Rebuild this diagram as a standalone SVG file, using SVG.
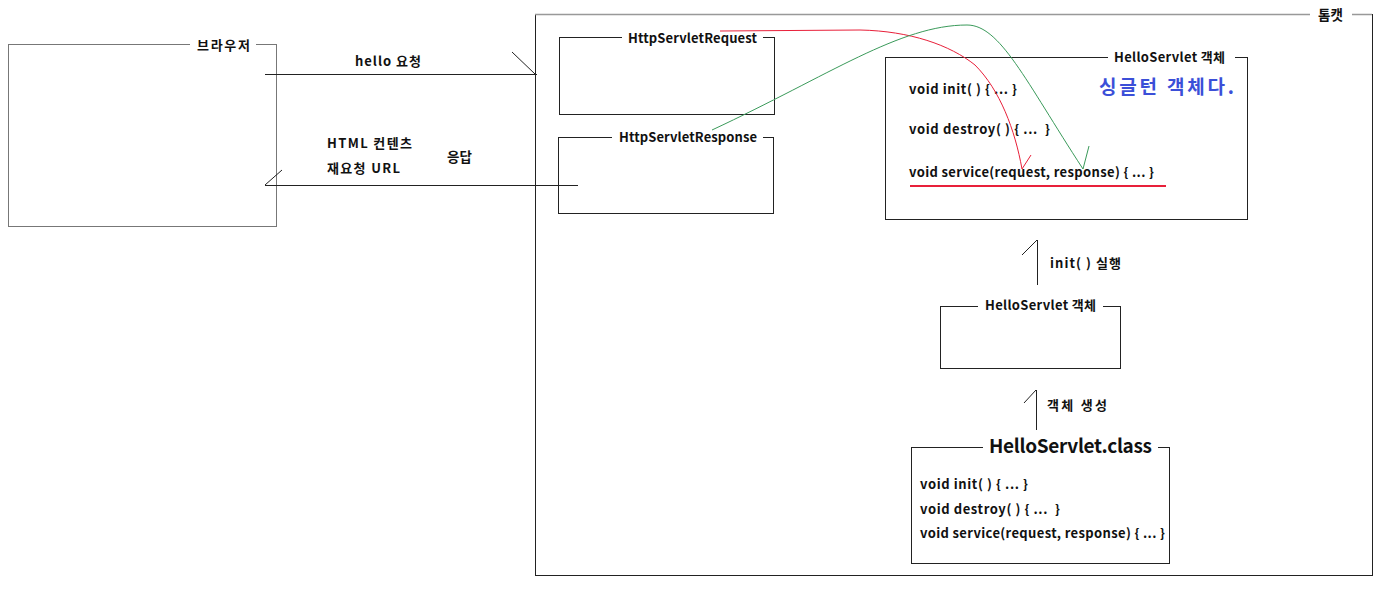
<svg xmlns="http://www.w3.org/2000/svg" width="1385" height="593" viewBox="0 0 1385 593">
<style>
.box{fill:none;stroke:#222;stroke-width:1}
.gbox{fill:none;stroke:#777;stroke-width:1}
.gap{fill:#fff;stroke:none}
.t{font-family:"Noto Sans CJK KR","Noto Sans",sans-serif;font-size:13px;font-weight:bold;fill:#111;white-space:pre}
.big{font-family:"Noto Sans CJK KR","Noto Sans",sans-serif;font-size:19px;font-weight:bold;fill:#111}
.ln{fill:none;stroke:#222;stroke-width:1}
</style>
<rect width="1385" height="593" fill="#fff"/>
<g id="tomcat">
<rect x="535.5" y="14.5" width="837" height="561" class="box"/>
<line x1="535" y1="14.5" x2="1372" y2="14.5" stroke="#999" stroke-width="1.5"/>
<rect x="1310" y="8" width="42" height="14" class="gap"/>
<text x="1318" y="20" class="t" style="font-size:13.5px">톰캣</text>
</g>
<g id="browser">
<rect x="8.5" y="44.5" width="268" height="182" class="gbox"/>
<rect x="190" y="38" width="66" height="14" class="gap"/>
<text x="197" y="50" class="t" textLength="53">브라우저</text>
</g>
<g id="request">
<rect x="559.5" y="37.5" width="215" height="77" class="box"/>
<rect x="622" y="31" width="141" height="14" class="gap"/>
<text x="628" y="43" class="t" textLength="129">HttpServletRequest</text>
</g>
<g id="response">
<rect x="558.5" y="137.5" width="215" height="76" class="box"/>
<rect x="612" y="131" width="151" height="14" class="gap"/>
<text x="619" y="142" class="t" textLength="138">HttpServletResponse</text>
</g>
<g id="servlet-obj">
<rect x="885.5" y="57.5" width="362" height="162" class="box"/>
<rect x="1108" y="51" width="127" height="14" class="gap"/>
<text x="1114" y="62" class="t" textLength="111">HelloServlet 객체</text>
<text x="909" y="94" class="t" textLength="108">void init( ) { ... }</text>
<text x="909" y="134" class="t" textLength="141">void destroy( ) { ...  }</text>
<text x="909" y="177" class="t" textLength="245">void service(request, response) { ... }</text>
<line x1="910" y1="186" x2="1166" y2="186" stroke="#e8203a" stroke-width="2"/>
<text x="1099" y="94" class="big" style="fill:#3b4fd8" textLength="135">싱글턴 객체다.</text>
</g>
<g id="servlet-obj2">
<rect x="940.5" y="306.5" width="180" height="62" class="box"/>
<rect x="978" y="299" width="125" height="14" class="gap"/>
<text x="985" y="310" class="t" textLength="111">HelloServlet 객체</text>
</g>
<g id="servlet-class">
<rect x="911.5" y="447.5" width="258" height="116" class="box"/>
<rect x="983" y="436" width="175" height="20" class="gap"/>
<text x="989" y="453" class="big" textLength="163">HelloServlet.class</text>
<text x="920" y="489" class="t" textLength="108">void init( ) { ... }</text>
<text x="920" y="514" class="t" textLength="140">void destroy( ) { ...  }</text>
<text x="920" y="538" class="t" textLength="245">void service(request, response) { ... }</text>
</g>
<g id="connectors">
<path d="M265,74.5 H537 M512,52 L535,74" class="ln"/>
<path d="M578,185.5 H265 M265,185 L282,170" class="ln" stroke="#555"/>
<path d="M1037.5,285 V240 M1037,240 L1022,255" class="ln"/>
<path d="M1036.5,430 V390 M1036,390 L1024,403" class="ln"/>
<path d="M720,31 L860,30 C910,31 950,45 975,65 C1000,90 1015,130 1022,169 L1031,155" fill="none" stroke="#e8203a" stroke-width="1"/>
<path d="M712,130 C830,75 900,25 967,25 C1000,25 1025,80 1083,169 L1089,146" fill="none" stroke="#3a9a5a" stroke-width="1"/>
<text x="355" y="66" class="t" textLength="66">hello 요청</text>
<text x="327" y="148" class="t" textLength="85">HTML 컨텐츠</text>
<text x="327" y="173" class="t" textLength="73">재요청 URL</text>
<text x="447" y="162" class="t" style="font-size:13.5px">응답</text>
<text x="1050" y="268" class="t" textLength="71">init( ) 실행</text>
<text x="1047" y="410" class="t" textLength="60">객체 생성</text>
</g>
</svg>
